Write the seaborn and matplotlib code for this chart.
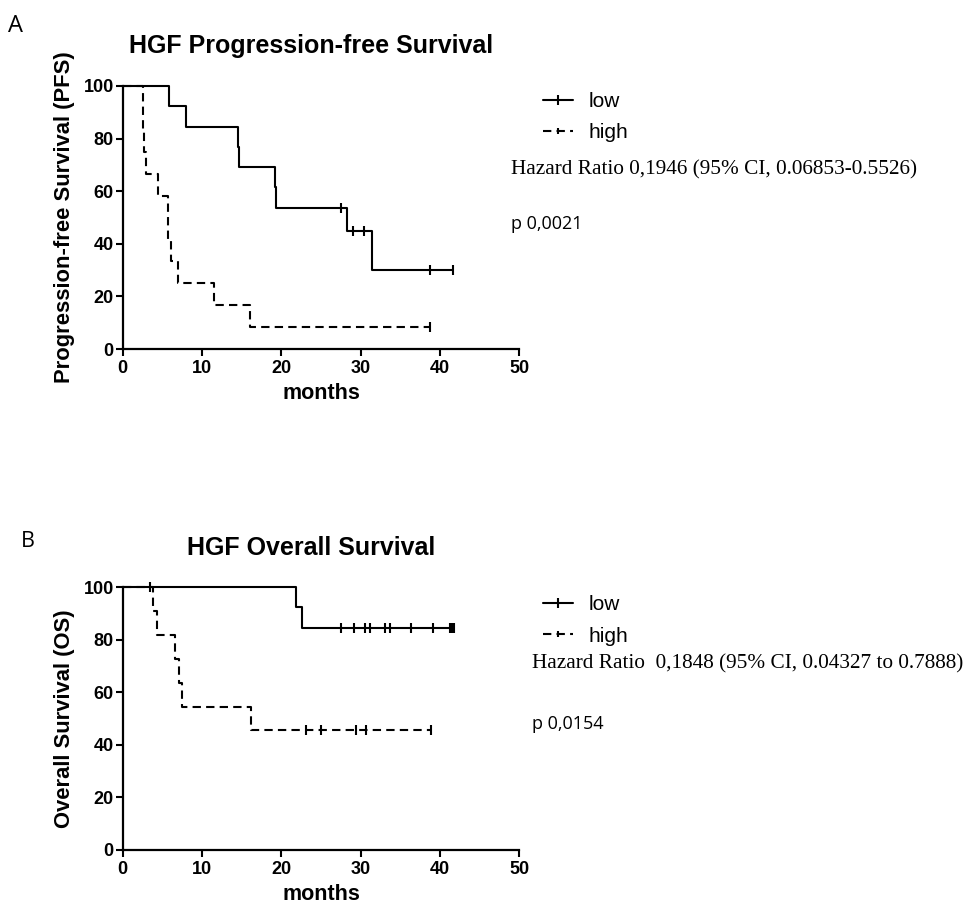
import matplotlib
matplotlib.use("Agg")
import matplotlib.pyplot as plt
from matplotlib.lines import Line2D
import seaborn as sns
import pandas as pd

# ---------------- data ----------------
# Panel A: HGF Progression-free Survival (step points: time, survival after that time)
pfs_low_t = [0, 5.9, 8.0, 14.5, 14.6, 19.2, 19.3, 28.3, 31.4, 41.7]
pfs_low_s = [100, 92.3, 84.6, 76.9, 69.2, 61.5, 53.8, 44.9, 29.9, 29.9]
pfs_low_cens_t = [27.5, 29.0, 30.4, 38.7, 41.7]
pfs_low_cens_s = [53.8, 44.9, 44.9, 29.9, 29.9]

pfs_high_t = [0, 2.6, 2.73, 2.94, 4.41, 5.75, 6.09, 7.0, 11.55, 16.05, 38.7]
pfs_high_s = [100, 83.3, 75.0, 66.7, 58.3, 41.7, 33.3, 25.0, 16.7, 8.3, 8.3]
pfs_high_cens_t = [38.7]
pfs_high_cens_s = [8.3]

# Panel B: HGF Overall Survival
os_low_t = [0, 21.8, 22.65, 41.6]
os_low_s = [100, 92.3, 84.6, 84.6]
os_low_cens_t = [27.5, 29.1, 30.6, 31.2, 33.1, 33.7, 36.4, 39.1, 41.3, 41.45, 41.6, 41.75]
os_low_cens_s = [84.6] * 12

os_high_t = [0, 3.78, 4.29, 6.6, 7.1, 7.52, 16.2, 38.9]
os_high_s = [100, 90.9, 81.8, 72.7, 63.6, 54.5, 45.5, 45.5]
os_high_cens_t = [3.46, 23.1, 25.0, 29.4, 30.7, 38.9]
os_high_cens_s = [100, 45.5, 45.5, 45.5, 45.5, 45.5]

groups = ["low", "high"]
x_ticks = [0, 10, 20, 30, 40, 50]
y_ticks = [0, 20, 40, 60, 80, 100]

titles = ["HGF Progression-free Survival", "HGF Overall Survival"]
ylabels = ["Progression-free Survival (PFS)", "Overall Survival (OS)"]
xlabel = "months"
panel_letters = ["A", "B"]
hr_texts = ["Hazard Ratio 0,1946 (95% CI, 0.06853-0.5526)",
            "Hazard Ratio  0,1848 (95% CI, 0.04327 to 0.7888)"]
p_texts = ["p 0,0021", "p 0,0154"]

# ---------------- style ----------------
sns.set_theme(style="ticks")
plt.rcParams["font.family"] = ["Liberation Sans", "DejaVu Sans"]
for key in ["text.color", "axes.labelcolor", "xtick.color", "ytick.color",
            "axes.edgecolor"]:
    plt.rcParams[key] = "black"

W, H = 971, 910
fig = plt.figure(figsize=(W / 100, H / 100), dpi=100)


def fx(px):
    return px / W


def fy(py):
    return 1 - py / H


LW = 1.5
DASH = (0, (4, 2.5))

panels = [
    dict(top=86, bottom=349,
         low=(pfs_low_t, pfs_low_s, pfs_low_cens_t, pfs_low_cens_s),
         high=(pfs_high_t, pfs_high_s, pfs_high_cens_t, pfs_high_cens_s),
         title_y=53, letter=(8, 32), letter_size=17,
         leg=(543, 92), hr=(511, 174), p=(511, 229)),
    dict(top=587, bottom=850,
         low=(os_low_t, os_low_s, os_low_cens_t, os_low_cens_s),
         high=(os_high_t, os_high_s, os_high_cens_t, os_high_cens_s),
         title_y=555, letter=(21, 547), letter_size=15.5,
         leg=(543, 595), hr=(532, 668), p=(532, 729)),
]

ax_left, ax_right = 122.7, 519.3

for i, pnl in enumerate(panels):
    ax = fig.add_axes([fx(ax_left), fy(pnl["bottom"]),
                       (ax_right - ax_left) / W, (pnl["bottom"] - pnl["top"]) / H])
    for g, ls in zip(groups, ["-", DASH]):
        t, s, ct, cs = pnl[g]
        df = pd.DataFrame({"t": t, "s": s})
        sns.lineplot(data=df, x="t", y="s", estimator=None, sort=False,
                     drawstyle="steps-post", color="black", linewidth=LW,
                     linestyle=ls, ax=ax, clip_on=False, zorder=3)
        cdf = pd.DataFrame({"t": ct, "s": cs})
        sns.scatterplot(data=cdf, x="t", y="s", marker="|", s=45,
                        color="black", linewidth=1.5, ax=ax, clip_on=False, zorder=4)

    ax.set_xlim(0, 50)
    ax.set_ylim(0, 100)
    ax.set_xticks(x_ticks)
    ax.set_yticks(y_ticks)
    ax.set_xticklabels([str(v) for v in x_ticks], fontweight="bold", fontsize=13)
    ax.set_yticklabels([str(v) for v in y_ticks], fontweight="bold", fontsize=13)
    ax.tick_params(axis="both", direction="out", length=5, width=1.5, color="black",
                   labelcolor="black")
    ax.tick_params(axis="x", pad=3)
    ax.tick_params(axis="y", pad=1.5)
    sns.despine(ax=ax)
    for sp in ["left", "bottom"]:
        ax.spines[sp].set_linewidth(1.6)
        ax.spines[sp].set_color("black")
    ax.set_xlabel(xlabel, fontweight="bold", fontsize=15.5, labelpad=4, color="black")
    ax.set_ylabel(ylabels[i], fontweight="bold", fontsize=15.8, labelpad=6, color="black")
    ax.set_facecolor("white")

    # title
    fig.text(fx(311), fy(pnl["title_y"]), titles[i], ha="center", va="baseline",
             fontsize=18, fontweight="bold", color="black")
    # panel letter
    fig.text(fx(pnl["letter"][0]), fy(pnl["letter"][1]), panel_letters[i],
             ha="left", va="baseline", fontsize=pnl["letter_size"],
             family=["Open Sans", "DejaVu Sans"], color="black")
    # legend
    handles = [
        Line2D([0], [0], color="black", lw=LW, linestyle="-", marker="|",
               markersize=7, markeredgewidth=1.5),
        Line2D([0], [0], color="black", lw=LW, linestyle=DASH, marker="|",
               markersize=5, markeredgewidth=1.5),
    ]
    leg = fig.legend(handles, groups, loc="upper left",
                     bbox_to_anchor=(fx(pnl["leg"][0]), fy(pnl["leg"][1])),
                     frameon=False, fontsize=15, handlelength=1.45, handletextpad=0.75,
                     labelspacing=0.6, borderpad=0, borderaxespad=0)
    for txt in leg.get_texts():
        txt.set_color("black")
    # hazard ratio and p
    fig.text(fx(pnl["hr"][0]), fy(pnl["hr"][1]), hr_texts[i], ha="left",
             va="baseline", fontsize=15.3, family=["Liberation Serif", "DejaVu Serif"],
             color="black")
    fig.text(fx(pnl["p"][0]), fy(pnl["p"][1]), p_texts[i], ha="left",
             va="baseline", fontsize=13, family=["Open Sans", "DejaVu Sans"],
             color="black")

fig.savefig("out.png", dpi=100, facecolor="white")
